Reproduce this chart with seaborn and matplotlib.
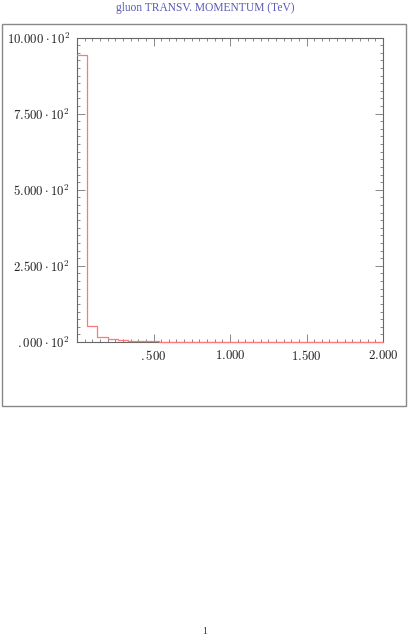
import matplotlib
matplotlib.use("Agg")
import matplotlib.pyplot as plt
import seaborn as sns
import numpy as np
from matplotlib.patches import Rectangle
from matplotlib.ticker import MultipleLocator, FixedLocator

sns.set_style("ticks")
plt.rcParams['font.family'] = ['DejaVu Serif']
plt.rcParams['mathtext.fontset'] = 'cm'

# data
bin_edges = [i * 2.0 / 30 for i in range(31)]
counts = [944, 52, 17, 10, 6, 4, 3, 2.2, 1.6, 1.2, 1.0, 0.8, 0.6, 0.5, 0.4,
          0.3, 0.25, 0.2, 0.15, 0.12, 0.1, 0.08, 0.06, 0.05, 0.04, 0.03,
          0.02, 0.015, 0.01, 0.01]
x_ticks = [0.5, 1.0, 1.5, 2.0]
x_labels = [r"$.500$", r"$1.000$", r"$1.500$", r"$2.000$"]
y_ticks = [0, 250, 500, 750, 1000]
y_labels = [r"$.000\cdot10^2$", r"$2.500\cdot10^2$", r"$5.000\cdot10^2$",
            r"$7.500\cdot10^2$", r"$10.000\cdot10^2$"]
title = "gluon TRANSV. MOMENTUM (TeV)"

W, H = 409, 636
fig = plt.figure(figsize=(W / 100, H / 100), dpi=100)
ax = fig.add_axes([77 / W, 1 - 342 / H, (383 - 77) / W, (342 - 37.5) / H])

centers = [(bin_edges[i] + bin_edges[i + 1]) / 2 for i in range(len(counts))]
sns.histplot(x=centers, weights=counts, bins=bin_edges, element="step",
             fill=False, color="#ff7878", linewidth=0.9, ax=ax)
for art in ax.patches + ax.lines:
    art.set_clip_on(False)
    art.set_zorder(5)

ax.set_xlim(0, 2.0)
ax.set_ylim(0, 1000)
ax.set_xlabel("")
ax.set_ylabel("")
ax.xaxis.set_major_locator(FixedLocator(x_ticks))
ax.set_xticklabels(x_labels)
ax.yaxis.set_major_locator(FixedLocator(y_ticks))
ax.set_yticklabels(y_labels)
ax.xaxis.set_minor_locator(MultipleLocator(0.05))
ax.yaxis.set_minor_locator(MultipleLocator(25))
ax.tick_params(which="both", direction="in", top=True, right=True,
               color="#888888", width=0.7, labelsize=9.3, labelcolor="#222222")
ax.tick_params(which="major", length=6, pad=5)
ax.tick_params(which="minor", length=2.5)
for s in ax.spines.values():
    s.set_visible(True)
    s.set_color("#666666")
    s.set_linewidth(0.8)

fig.text(205 / W, 1 - 7.5 / H, title, ha="center", va="center",
         color="#5a5ab4", fontsize=8.3, family="Liberation Serif")
fig.patches.append(Rectangle((2 / W, 1 - 406 / H), 404 / W, 382 / H,
                             transform=fig.transFigure, fill=False,
                             edgecolor="#888888", linewidth=1.0))
fig.text(205 / W, 1 - 631 / H, "1", ha="center", va="center",
         color="#333333", fontsize=7, family="Liberation Serif")

fig.savefig("out.png", dpi=100)
